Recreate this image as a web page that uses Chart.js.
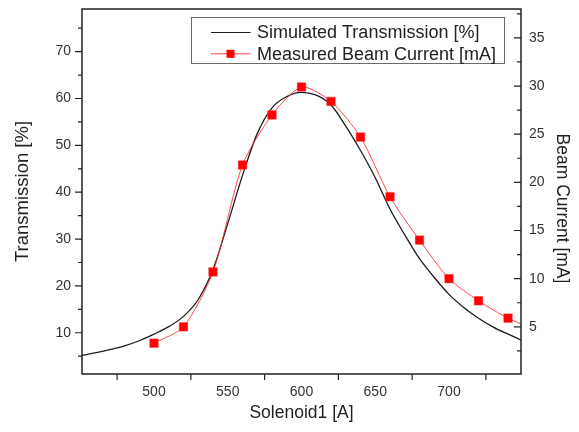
<!DOCTYPE html>
<html>
<head>
<meta charset="utf-8">
<script src="https://cdn.jsdelivr.net/npm/chart.js@4.4.1/dist/chart.umd.min.js"></script>
<style>
    html, body { margin: 0; padding: 0; background: #ffffff; }
    #wrap { width: 579px; height: 432px; }
</style>
</head>
<body>
<div id="wrap"><canvas id="chart" width="579" height="432"></canvas></div>
<script>
    // Simulated transmission [%] (left axis)
    const simCurrent = [450, 460, 470, 480, 490, 500, 510, 520, 530, 540, 550, 560, 570, 580, 590, 600,
        610, 620, 630, 640, 650, 660, 670, 680, 690, 700, 710, 720, 730, 740, 750];
    const simTransmission = [5.1, 5.7, 6.4, 7.2, 8.3, 9.7, 11.3, 13.5, 17.1, 23.5, 33.3, 43.6, 52.5, 58.0, 60.4, 61.3,
        60.7, 58.6, 54.1, 48.9, 43.1, 36.4, 30.9, 25.8, 21.8, 18.2, 15.4, 13.1, 11.2, 9.7, 8.3];

    // Measured beam current [mA] (right axis)
    const measCurrent = [500, 520, 540, 560, 580, 600, 620, 640, 660, 680, 700, 720, 740, 760];
    const measBeam = [3.3, 5.0, 10.7, 21.8, 27.0, 29.9, 28.4, 24.7, 18.5, 14.0, 10.0, 7.7, 5.9, 4.6];

    const xTicks = [500, 550, 600, 650, 700];
    const xMinorTicks = [475, 525, 575, 625, 675, 725];
    const leftTicks = [10, 20, 30, 40, 50, 60, 70];
    const leftMinorTicks = [5, 15, 25, 35, 45, 55, 65, 75];
    const rightTicks = [5, 10, 15, 20, 25, 30, 35];
    const rightMinorTicks = [2.5, 7.5, 12.5, 17.5, 22.5, 27.5, 32.5, 37.5];

    const FONT = "'Liberation Sans', Arial, sans-serif";
    const INK = "#222222";

    function setTicks(values) {
        return (scale) => {
            scale.ticks = values.map((value) => ({ value }));
        };
    }

    function fixWidth(width) {
        return (scale) => {
            scale.width = width;
            scale.paddingTop = 0;
            scale.paddingBottom = 0;
        };
    }

    // frame, major/minor tick marks, boxed legend and right axis title
    const decor = {
        id: "decor",
        afterDatasetsDraw(chart) {
            const { ctx, chartArea: a, scales } = chart;
            ctx.save();
            ctx.strokeStyle = INK;
            ctx.lineWidth = 1.2;
            ctx.beginPath();
            for (const v of leftTicks.concat(leftMinorTicks)) {
                const y = scales.y.getPixelForValue(v);
                const len = leftTicks.includes(v) ? 7 : 4;
                ctx.moveTo(a.left - len, y);
                ctx.lineTo(a.left, y);
            }
            for (const v of rightTicks.concat(rightMinorTicks)) {
                const y = scales.y1.getPixelForValue(v);
                const len = rightTicks.includes(v) ? 7 : 4;
                ctx.moveTo(a.right - len, y);
                ctx.lineTo(a.right, y);
            }
            for (const v of xMinorTicks) {
                const x = scales.x.getPixelForValue(v);
                ctx.moveTo(x, a.bottom);
                ctx.lineTo(x, a.bottom + 6);
            }
            ctx.stroke();

            ctx.lineWidth = 1.5;
            ctx.strokeRect(a.left, a.top, a.right - a.left, a.bottom - a.top);
            ctx.restore();
        },
        afterDraw(chart) {
            const { ctx, chartArea: a } = chart;
            const ds = chart.data.datasets;
            ctx.save();

            // legend
            const bx = a.left + 109.5;
            const by = a.top + 8.5;
            ctx.fillStyle = "#ffffff";
            ctx.fillRect(bx, by, 313, 46);
            ctx.strokeStyle = "#6b6b6b";
            ctx.lineWidth = 1;
            ctx.strokeRect(bx, by, 313, 46);

            const rows = [ds[1], ds[0]];
            ctx.font = "18px " + FONT;
            ctx.textBaseline = "middle";
            rows.forEach((d, i) => {
                const y = by + 15 + i * 21.3;
                ctx.strokeStyle = d.borderColor;
                ctx.lineWidth = 1;
                ctx.beginPath();
                ctx.moveTo(bx + 19.5, y);
                ctx.lineTo(bx + 59, y);
                ctx.stroke();
                if (d.pointRadius > 0) {
                    ctx.fillStyle = d.pointBackgroundColor;
                    ctx.fillRect(bx + 35, y - 4, 8, 8);
                }
                ctx.fillStyle = INK;
                ctx.fillText(d.label, bx + 65.5, y + 1);
            });

            // right axis title
            ctx.font = "17.5px " + FONT;
            ctx.translate(a.right + 41, (a.top + a.bottom) / 2 + 17);
            ctx.rotate(Math.PI / 2);
            ctx.textAlign = "center";
            ctx.fillStyle = INK;
            ctx.fillText("Beam Current [mA]", 0, 0);
            ctx.restore();
        }
    };

    new Chart(document.getElementById("chart"), {
        type: "line",
        data: {
            datasets: [{
                label: "Measured Beam Current [mA]",
                data: measCurrent.map((x, i) => ({ x, y: measBeam[i] })),
                yAxisID: "y1",
                borderColor: "rgba(255, 40, 40, 0.85)",
                borderWidth: 1,
                pointStyle: "rect",
                pointRadius: 6,
                pointBackgroundColor: "#ff0000",
                pointBorderColor: "#ff2a2a",
                pointBorderWidth: 0.5,
                tension: 0.25,
                clip: 0,
                order: 0
            }, {
                label: "Simulated Transmission [%]",
                data: simCurrent.map((x, i) => ({ x, y: simTransmission[i] })),
                yAxisID: "y",
                borderColor: "#1c1c1c",
                borderWidth: 1.3,
                pointRadius: 0,
                cubicInterpolationMode: "monotone",
                clip: 0,
                order: 1
            }]
        },
        options: {
            responsive: false,
            animation: false,
            layout: { padding: { top: 9, left: 0, right: 0, bottom: 0 } },
            scales: {
                x: {
                    type: "linear",
                    position: "bottom",
                    min: 451.2,
                    max: 748.8,
                    afterBuildTicks: setTicks(xTicks),
                    afterFit: (scale) => {
                        scale.height = 58;
                        scale.paddingLeft = 0;
                        scale.paddingRight = 0;
                    },
                    grid: { display: false, drawTicks: false },
                    border: { display: false },
                    ticks: {
                        autoSkip: false,
                        maxRotation: 0,
                        padding: 10,
                        color: "#333333",
                        font: { family: FONT, size: 14 }
                    },
                    title: {
                        display: true,
                        text: "Solenoid1 [A]",
                        color: INK,
                        font: { family: FONT, size: 17.5 },
                        padding: { top: 0, bottom: 8 }
                    }
                },
                y: {
                    type: "linear",
                    position: "left",
                    min: 1.2,
                    max: 79.1,
                    afterBuildTicks: setTicks(leftTicks),
                    afterFit: fixWidth(82),
                    grid: { display: false, drawTicks: false },
                    border: { display: false },
                    ticks: {
                        padding: 11,
                        color: "#333333",
                        font: { family: FONT, size: 14 }
                    },
                    title: {
                        display: true,
                        text: "Transmission [%]",
                        color: INK,
                        font: { family: FONT, size: 18.5 },
                        padding: { top: 12, bottom: 0 }
                    }
                },
                y1: {
                    type: "linear",
                    position: "right",
                    min: 0.1,
                    max: 38.0,
                    afterBuildTicks: setTicks(rightTicks),
                    afterFit: fixWidth(58),
                    grid: { display: false, drawTicks: false },
                    border: { display: false },
                    ticks: {
                        padding: 8,
                        color: "#333333",
                        font: { family: FONT, size: 14 }
                    }
                }
            },
            plugins: {
                legend: { display: false },
                tooltip: { enabled: false }
            }
        },
        plugins: [decor]
    });
</script>
</body>
</html>
